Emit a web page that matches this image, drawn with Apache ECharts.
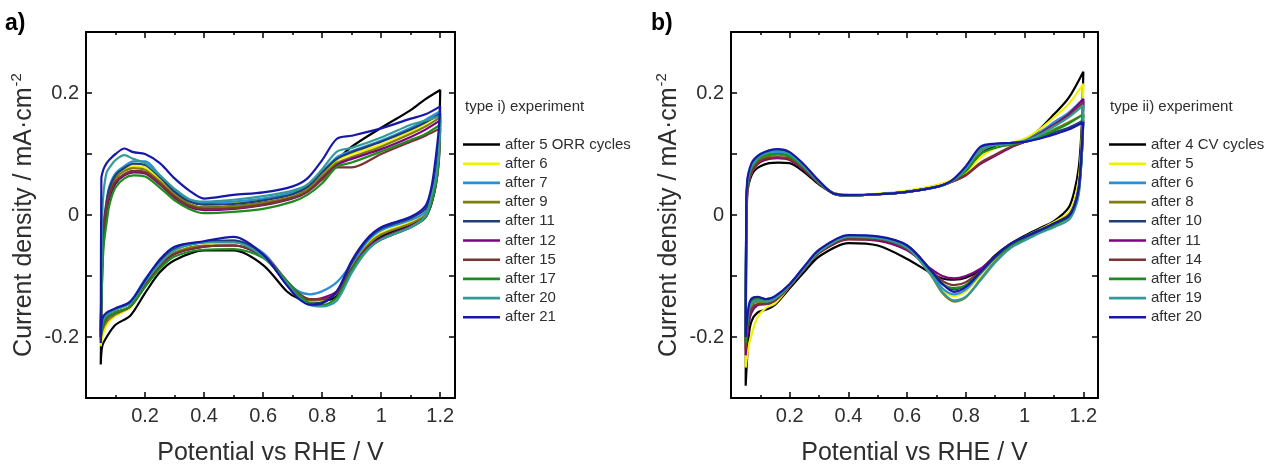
<!DOCTYPE html>
<html><head><meta charset="utf-8">
<script src="https://cdn.jsdelivr.net/npm/echarts@6/dist/echarts.min.js"></script>
<style>html,body{margin:0;padding:0;background:#fff;}#c{width:1266px;height:464px;}</style>
</head><body><div id="c"></div>
<script>
// ---------- labels ----------
const namesA = ['after 5 ORR cycles','after 6','after 7','after 9','after 11','after 12','after 15','after 17','after 20','after 21'];
const namesB = ['after 4 CV cycles','after 5','after 6','after 8','after 10','after 11','after 14','after 16','after 19','after 20'];
const colors = ['#000000','#f2f200','#2a8fd6','#7d7d12','#1f3d78','#800080','#7a3232','#1e8c1e','#339a9a','#1818a8'];
const xMajorTicks = [0.2,0.4,0.6,0.8,1.0,1.2];
const xMinorTicks = [0.1,0.3,0.5,0.7,0.9,1.1];

// ---------- panel a: potentials (V) ----------
const potA_fwd = [0.05,0.052,0.055,0.06,0.07,0.08,0.1,0.13,0.16,0.2,0.25,0.3,0.35,0.4,0.5,0.6,0.7,0.75,0.8,0.85,0.9,1.0,1.1,1.15,1.2];
const potA_rev = [1.2,1.195,1.185,1.17,1.15,1.1,1.0,0.95,0.9,0.85,0.8,0.76,0.72,0.68,0.6,0.5,0.4,0.3,0.25,0.2,0.15,0.1,0.07,0.055,0.05];
// anodic scan current densities (mA cm-2), one row per legend entry
const A_fwd = [
 [-0.245,-0.17,-0.09,-0.035,0.008,0.03,0.052,0.066,0.072,0.07,0.053,0.031,0.017,0.012,0.014,0.02,0.03,0.043,0.068,0.09,0.112,0.143,0.172,0.19,0.205],
 [-0.215,-0.14,-0.07,-0.02,0.02,0.042,0.063,0.075,0.08,0.077,0.058,0.036,0.022,0.018,0.02,0.024,0.033,0.045,0.068,0.09,0.1,0.115,0.137,0.15,0.165],
 [-0.195,-0.12,-0.06,-0.015,0.025,0.048,0.068,0.08,0.088,0.088,0.065,0.04,0.025,0.02,0.022,0.027,0.037,0.048,0.07,0.095,0.105,0.122,0.143,0.156,0.17],
 [-0.205,-0.13,-0.065,-0.02,0.018,0.04,0.06,0.072,0.077,0.074,0.055,0.033,0.018,0.012,0.014,0.02,0.03,0.042,0.064,0.085,0.095,0.112,0.133,0.145,0.16],
 [-0.2,-0.13,-0.065,-0.02,0.022,0.045,0.065,0.077,0.084,0.082,0.062,0.038,0.022,0.017,0.018,0.024,0.034,0.046,0.07,0.092,0.103,0.12,0.14,0.152,0.166],
 [-0.2,-0.13,-0.07,-0.025,0.012,0.032,0.053,0.065,0.07,0.068,0.05,0.028,0.013,0.008,0.01,0.016,0.027,0.038,0.06,0.082,0.092,0.108,0.128,0.14,0.155],
 [-0.19,-0.12,-0.06,-0.02,0.015,0.035,0.055,0.067,0.072,0.07,0.052,0.03,0.015,0.01,0.011,0.017,0.028,0.038,0.058,0.078,0.078,0.1,0.12,0.13,0.142],
 [-0.2,-0.15,-0.1,-0.05,-0.012,0.018,0.045,0.06,0.065,0.063,0.045,0.024,0.01,0.003,0.005,0.01,0.022,0.033,0.052,0.079,0.086,0.104,0.123,0.133,0.148],
 [-0.2,-0.1,0.0,0.04,0.07,0.078,0.09,0.098,0.092,0.085,0.065,0.043,0.026,0.022,0.025,0.031,0.04,0.05,0.075,0.104,0.11,0.127,0.148,0.155,0.162],
 [-0.21,0.06,0.068,0.076,0.085,0.091,0.1,0.109,0.103,0.1,0.085,0.06,0.04,0.027,0.033,0.037,0.047,0.06,0.09,0.125,0.13,0.142,0.158,0.165,0.178]
];
// cathodic scan
const A_rev = [
 [0.205,0.12,0.06,0.018,0.0,-0.015,-0.035,-0.055,-0.09,-0.133,-0.14,-0.14,-0.137,-0.125,-0.082,-0.058,-0.058,-0.074,-0.094,-0.128,-0.165,-0.18,-0.2,-0.215,-0.245],
 [0.165,0.1,0.06,0.025,0.002,-0.012,-0.03,-0.05,-0.085,-0.125,-0.14,-0.142,-0.132,-0.112,-0.068,-0.05,-0.05,-0.062,-0.083,-0.115,-0.152,-0.165,-0.18,-0.2,-0.215],
 [0.17,0.11,0.065,0.03,0.005,-0.008,-0.025,-0.045,-0.08,-0.11,-0.125,-0.13,-0.125,-0.108,-0.062,-0.042,-0.045,-0.055,-0.076,-0.105,-0.142,-0.155,-0.165,-0.18,-0.195],
 [0.16,0.1,0.058,0.024,0.0,-0.014,-0.032,-0.052,-0.087,-0.127,-0.138,-0.14,-0.132,-0.112,-0.068,-0.05,-0.05,-0.062,-0.083,-0.114,-0.15,-0.163,-0.175,-0.19,-0.205],
 [0.166,0.11,0.07,0.035,0.01,-0.005,-0.022,-0.042,-0.078,-0.126,-0.143,-0.145,-0.136,-0.114,-0.066,-0.042,-0.044,-0.056,-0.077,-0.108,-0.143,-0.155,-0.162,-0.175,-0.2],
 [0.155,0.09,0.05,0.02,-0.003,-0.018,-0.038,-0.055,-0.088,-0.125,-0.136,-0.138,-0.13,-0.11,-0.068,-0.05,-0.052,-0.064,-0.084,-0.115,-0.15,-0.16,-0.17,-0.185,-0.2],
 [0.142,0.085,0.048,0.018,-0.004,-0.02,-0.04,-0.057,-0.09,-0.128,-0.138,-0.138,-0.128,-0.108,-0.066,-0.05,-0.052,-0.064,-0.085,-0.116,-0.15,-0.16,-0.168,-0.18,-0.19],
 [0.148,0.09,0.05,0.02,-0.004,-0.02,-0.04,-0.058,-0.09,-0.135,-0.148,-0.145,-0.13,-0.108,-0.07,-0.056,-0.057,-0.068,-0.088,-0.118,-0.15,-0.16,-0.168,-0.185,-0.2],
 [0.162,0.1,0.06,0.03,-0.002,-0.02,-0.04,-0.06,-0.095,-0.14,-0.15,-0.148,-0.135,-0.112,-0.068,-0.045,-0.045,-0.058,-0.08,-0.11,-0.145,-0.155,-0.163,-0.175,-0.2],
 [0.178,0.14,0.095,0.045,0.015,-0.003,-0.02,-0.04,-0.075,-0.125,-0.145,-0.147,-0.137,-0.115,-0.065,-0.036,-0.043,-0.052,-0.073,-0.107,-0.142,-0.153,-0.16,-0.17,-0.21]
];

// ---------- panel b ----------
const potB_fwd = [0.05,0.052,0.055,0.06,0.07,0.08,0.1,0.13,0.16,0.2,0.25,0.3,0.35,0.4,0.5,0.6,0.7,0.75,0.8,0.85,0.9,0.95,1.0,1.05,1.1,1.15,1.2];
const potB_rev = [1.2,1.195,1.185,1.17,1.15,1.1,1.05,1.0,0.95,0.9,0.85,0.8,0.76,0.72,0.68,0.6,0.5,0.4,0.3,0.25,0.2,0.15,0.12,0.09,0.07,0.06,0.05];
const B_fwd = [
 [-0.28,-0.05,0.03,0.05,0.065,0.073,0.08,0.085,0.086,0.085,0.07,0.05,0.036,0.032,0.034,0.038,0.047,0.055,0.07,0.1,0.113,0.117,0.122,0.14,0.165,0.192,0.235],
 [-0.25,-0.04,0.035,0.055,0.07,0.078,0.087,0.092,0.093,0.09,0.074,0.052,0.036,0.032,0.035,0.04,0.049,0.057,0.07,0.095,0.11,0.118,0.125,0.14,0.16,0.182,0.215],
 [-0.205,0.0,0.045,0.062,0.077,0.085,0.095,0.1,0.102,0.098,0.078,0.054,0.035,0.032,0.034,0.038,0.046,0.055,0.075,0.105,0.115,0.118,0.122,0.135,0.152,0.168,0.19],
 [-0.21,-0.01,0.042,0.06,0.075,0.082,0.092,0.097,0.099,0.095,0.076,0.053,0.035,0.032,0.034,0.038,0.046,0.055,0.076,0.106,0.116,0.118,0.12,0.128,0.14,0.152,0.165],
 [-0.2,0.01,0.05,0.066,0.08,0.088,0.098,0.104,0.106,0.101,0.08,0.055,0.035,0.032,0.034,0.038,0.046,0.055,0.078,0.11,0.116,0.117,0.12,0.126,0.135,0.143,0.155],
 [-0.23,-0.03,0.035,0.055,0.07,0.078,0.087,0.092,0.093,0.09,0.073,0.052,0.035,0.032,0.034,0.038,0.046,0.054,0.065,0.084,0.097,0.11,0.12,0.133,0.148,0.165,0.19],
 [-0.22,-0.02,0.04,0.057,0.072,0.08,0.089,0.094,0.095,0.092,0.075,0.052,0.035,0.032,0.034,0.038,0.046,0.054,0.066,0.086,0.099,0.111,0.12,0.132,0.146,0.162,0.185],
 [-0.21,0.0,0.045,0.062,0.077,0.084,0.094,0.099,0.1,0.096,0.077,0.053,0.035,0.032,0.034,0.038,0.046,0.055,0.072,0.1,0.11,0.115,0.12,0.128,0.138,0.15,0.165],
 [-0.2,0.01,0.05,0.066,0.08,0.087,0.097,0.103,0.105,0.1,0.079,0.054,0.035,0.032,0.034,0.038,0.046,0.055,0.076,0.108,0.115,0.117,0.121,0.131,0.145,0.16,0.18],
 [-0.2,0.02,0.055,0.07,0.085,0.092,0.1,0.106,0.108,0.103,0.082,0.056,0.035,0.033,0.034,0.038,0.046,0.056,0.08,0.112,0.117,0.118,0.12,0.125,0.132,0.14,0.152]
];
const B_rev = [
 [0.235,0.15,0.08,0.04,0.012,-0.01,-0.022,-0.034,-0.048,-0.066,-0.09,-0.103,-0.106,-0.104,-0.095,-0.072,-0.05,-0.046,-0.068,-0.093,-0.12,-0.147,-0.155,-0.16,-0.174,-0.2,-0.28],
 [0.215,0.13,0.06,0.025,0.004,-0.012,-0.024,-0.036,-0.05,-0.07,-0.098,-0.125,-0.133,-0.122,-0.095,-0.054,-0.042,-0.04,-0.062,-0.088,-0.117,-0.145,-0.152,-0.168,-0.196,-0.215,-0.25],
 [0.19,0.12,0.05,0.018,0.0,-0.014,-0.025,-0.036,-0.049,-0.07,-0.096,-0.122,-0.13,-0.12,-0.094,-0.053,-0.038,-0.035,-0.059,-0.086,-0.114,-0.137,-0.142,-0.14,-0.15,-0.17,-0.205],
 [0.165,0.1,0.04,0.012,-0.004,-0.017,-0.028,-0.04,-0.053,-0.076,-0.105,-0.135,-0.142,-0.128,-0.098,-0.054,-0.04,-0.038,-0.061,-0.087,-0.116,-0.14,-0.145,-0.142,-0.148,-0.165,-0.21],
 [0.155,0.1,0.045,0.017,0.0,-0.014,-0.025,-0.036,-0.049,-0.069,-0.094,-0.115,-0.122,-0.113,-0.09,-0.05,-0.036,-0.034,-0.058,-0.085,-0.114,-0.134,-0.138,-0.135,-0.14,-0.155,-0.2],
 [0.19,0.11,0.045,0.015,-0.002,-0.015,-0.026,-0.037,-0.05,-0.068,-0.088,-0.1,-0.104,-0.1,-0.088,-0.058,-0.042,-0.04,-0.062,-0.088,-0.117,-0.14,-0.146,-0.148,-0.16,-0.18,-0.23],
 [0.185,0.11,0.045,0.015,-0.002,-0.015,-0.026,-0.037,-0.05,-0.069,-0.092,-0.11,-0.115,-0.108,-0.09,-0.056,-0.04,-0.039,-0.062,-0.088,-0.117,-0.14,-0.146,-0.146,-0.155,-0.175,-0.22],
 [0.165,0.1,0.042,0.013,-0.003,-0.016,-0.027,-0.038,-0.051,-0.07,-0.095,-0.115,-0.12,-0.113,-0.092,-0.054,-0.038,-0.036,-0.06,-0.087,-0.115,-0.137,-0.142,-0.138,-0.143,-0.16,-0.21],
 [0.18,0.1,0.035,0.008,-0.008,-0.02,-0.03,-0.042,-0.055,-0.078,-0.107,-0.134,-0.14,-0.126,-0.097,-0.054,-0.038,-0.036,-0.06,-0.087,-0.115,-0.137,-0.142,-0.14,-0.145,-0.16,-0.2],
 [0.152,0.11,0.044,0.015,-0.002,-0.014,-0.026,-0.036,-0.048,-0.068,-0.093,-0.118,-0.126,-0.113,-0.09,-0.05,-0.035,-0.033,-0.057,-0.084,-0.113,-0.133,-0.138,-0.134,-0.137,-0.15,-0.2]
];

// ---------- build ----------
const FONT = "'Liberation Sans', Arial, Helvetica, sans-serif";
const TXT = '#2e2e2e';
function loop(pf, vf, pr, vr){
  return pf.map((x,i)=>[x,vf[i]]).concat(pr.map((x,i)=>[x,vr[i]]));
}
const grids = [
  {left:86, top:32, width:369, height:366, containLabel:false, outerBoundsMode:'none'},
  {left:731, top:32, width:367, height:366, containLabel:false, outerBoundsMode:'none'}
];
const xAxes = [], yAxes = [];
grids.forEach((g, gi) => {
  const base = {gridIndex:gi, type:'value', min:0, max:1.25, splitLine:{show:false}};
  xAxes.push(Object.assign({}, base, {
    position:'bottom',
    axisLine:{show:true, onZero:false, lineStyle:{color:'#000', width:2}},
    axisTick:{show:true, inside:true, length:6, customValues:xMajorTicks, lineStyle:{color:'#000', width:1.5}},
    axisLabel:{show:true, customValues:xMajorTicks, margin:8, fontSize:20, color:TXT, fontFamily:FONT},
    name:'Potential vs RHE / V', nameLocation:'middle', nameGap:43,
    nameTextStyle:{fontSize:25, color:TXT, fontFamily:FONT}
  }));
  xAxes.push(Object.assign({}, base, {
    position:'bottom', axisLine:{show:false, onZero:false},
    axisTick:{show:true, inside:true, length:3, customValues:xMinorTicks, lineStyle:{color:'#000', width:1.5}},
    axisLabel:{show:false}
  }));
  xAxes.push(Object.assign({}, base, {
    position:'top', axisLine:{show:true, onZero:false, lineStyle:{color:'#000', width:2}},
    axisTick:{show:true, inside:true, length:6, customValues:xMajorTicks, lineStyle:{color:'#000', width:1.5}},
    axisLabel:{show:false}
  }));
  xAxes.push(Object.assign({}, base, {
    position:'top', axisLine:{show:false, onZero:false},
    axisTick:{show:true, inside:true, length:3, customValues:xMinorTicks, lineStyle:{color:'#000', width:1.5}},
    axisLabel:{show:false}
  }));
  const ybase = {gridIndex:gi, type:'value', min:-0.3, max:0.3, interval:0.1, splitLine:{show:false}};
  yAxes.push(Object.assign({}, ybase, {
    position:'left',
    axisLine:{show:true, onZero:false, lineStyle:{color:'#000', width:2}},
    axisTick:{show:true, inside:true, length:6, lineStyle:{color:'#000', width:1.5}},
    axisLabel:{show:true, margin:7, fontSize:20, color:TXT, fontFamily:FONT,
      formatter: v => { const k = Math.round(v*10); if (k % 2 !== 0) return ''; return k === 0 ? '0' : String(k/10); }},
    name:'{n|Current density / mA·cm}{s|-2}', nameLocation:'middle', nameGap:45, nameRotate:90,
    nameTextStyle:{color:TXT, fontFamily:FONT,
      rich:{n:{fontSize:25, lineHeight:34, color:TXT, fontFamily:FONT},
            s:{fontSize:15, lineHeight:34, color:TXT, fontFamily:FONT, verticalAlign:'top', padding:[2,0,0,1]}}}
  }));
  yAxes.push(Object.assign({}, ybase, {
    position:'right',
    axisLine:{show:true, onZero:false, lineStyle:{color:'#000', width:2}},
    axisTick:{show:true, inside:true, length:6, lineStyle:{color:'#000', width:1.5}},
    axisLabel:{show:false}
  }));
});

const series = [];
namesA.forEach((n,i) => series.push({
  type:'line', name:'a:'+n, xAxisIndex:0, yAxisIndex:0,
  data: loop(potA_fwd, A_fwd[i], potA_rev, A_rev[i]),
  symbol:'none', smooth:0.3, z:2+i,
  lineStyle:{width:2.2, color:colors[i]}, itemStyle:{color:colors[i]}
}));
namesB.forEach((n,i) => series.push({
  type:'line', name:'b:'+n, xAxisIndex:4, yAxisIndex:2,
  data: loop(potB_fwd, B_fwd[i], potB_rev, B_rev[i]),
  symbol:'none', smooth:0.3, z:2+i,
  lineStyle:{width:2.2, color:colors[i]}, itemStyle:{color:colors[i]}
}));

const legendBase = {orient:'vertical', top:137, icon:'rect', itemWidth:37, itemHeight:2.6, itemGap:4.2, padding:0,
  formatter: n => n.slice(2),
  textStyle:{fontSize:15, color:TXT, fontFamily:FONT, lineHeight:15}};

const chart = echarts.init(document.getElementById('c'), null, {renderer:'canvas'});
chart.setOption({
  animation:false,
  backgroundColor:'#ffffff',
  grid: grids,
  xAxis: xAxes,
  yAxis: yAxes,
  legend: [
    Object.assign({}, legendBase, {left:463, data: namesA.map(n=>'a:'+n)}),
    Object.assign({}, legendBase, {left:1109, data: namesB.map(n=>'b:'+n)})
  ],
  graphic: [
    {type:'text', left:5, top:12, style:{text:'a)', font:'bold 23px ' + FONT, fill:'#000'}},
    {type:'text', left:651, top:12, style:{text:'b)', font:'bold 23px ' + FONT, fill:'#000'}},
    {type:'text', left:465, top:99, style:{text:'type i) experiment', font:'15px ' + FONT, fill:TXT}},
    {type:'text', left:1110, top:99, style:{text:'type ii) experiment', font:'15px ' + FONT, fill:TXT}}
  ],
  series: series
});
</script>
</body></html>
